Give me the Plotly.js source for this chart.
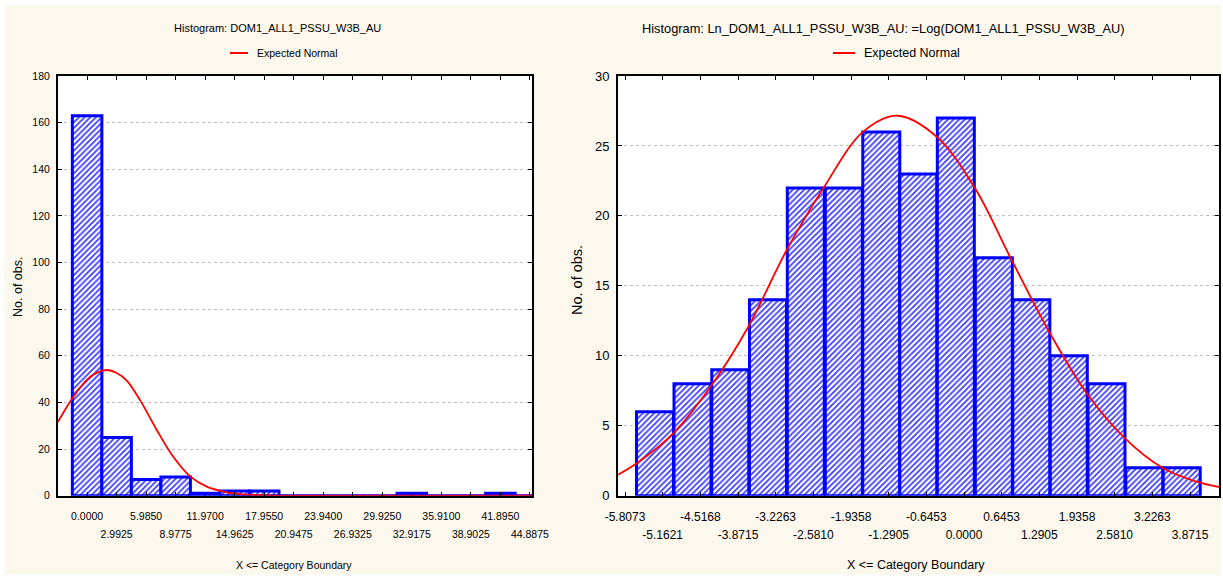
<!DOCTYPE html>
<html><head><meta charset="utf-8">
<script src="https://cdn.plot.ly/plotly-3.0.1.min.js"></script>
<style>
html,body{margin:0;padding:0;background:#ffffff;}
#frame{position:absolute;left:4px;top:5px;width:1217px;height:570px;background:#fcf8ee;}
#chart{width:1217px;height:570px;}
</style></head><body><div id="frame"><div id="chart"></div></div>
<script>
// ---- Left panel: raw variable ----
const rawTickLabels = ['0.0000','2.9925','5.9850','8.9775','11.9700','14.9625','17.9550','20.9475',
  '23.9400','26.9325','29.9250','32.9175','35.9100','38.9025','41.8950','44.8875'];
const rawCounts = [163, 25, 7, 8, 1, 2, 2, 0, 0, 0, 0, 1, 0, 0, 1, 0];
const rawCurveX = [-2.95, -1.39, 0, 1.0, 2.0, 3.0, 4.02, 5.37, 7.06, 8.74, 10.44, 12.13, 14.16, 15.5, 17.5, 20.0, 25.0, 45.1];
const rawCurveY = [31.7, 42.4, 49.8, 52.8, 53.9, 52.6, 49.4, 41.0, 28.2, 16.7, 8.3, 3.9, 1.45, 0.7, 0.2, 0.03, 0, 0];

// ---- Right panel: log-transformed variable ----
const lnTickLabels = ['-5.8073','-5.1621','-4.5168','-3.8715','-3.2263','-2.5810','-1.9358','-1.2905',
  '-0.6453','0.0000','0.6453','1.2905','1.9358','2.5810','3.2263','3.8715'];
const lnBinCenters = [-5.293, -4.651, -4.004, -3.358, -2.710, -2.059, -1.417, -0.783, -0.140, 0.511, 1.153, 1.795, 2.441, 3.089, 3.730];
const lnCounts = [6, 8, 9, 14, 22, 22, 26, 23, 27, 17, 14, 10, 8, 2, 2];
const lnCurveX = [-5.927, -5.607, -4.980, -4.322, -3.695, -3.037, -2.410, -1.725, -1.136, -0.468, 0.189, 0.788, 1.473, 2.102, 2.758, 3.414, 3.986, 4.368];
const lnCurveY = [1.50, 2.32, 4.46, 7.91, 12.08, 17.56, 21.97, 26.02, 27.16, 25.66, 21.97, 17.08, 11.61, 7.32, 4.10, 1.96, 1.00, 0.62];

const titles = ['Histogram: DOM1_ALL1_PSSU_W3B_AU', 'Histogram: Ln_DOM1_ALL1_PSSU_W3B_AU: =Log(DOM1_ALL1_PSSU_W3B_AU)'];
const legendLabel = 'Expected Normal';
const xTitle = 'X <= Category Boundary';
const yTitle = 'No. of obs.';

const W = 1217, H = 570;
const FONT = 'Liberation Sans, Arial, sans-serif';
const px = v => v / W;
const py = v => 1 - v / H;
const f = s => ({family: FONT, size: s, color: '#000'});

const evenOnly = labels => labels.map((s, i) => i % 2 === 0 ? s : '');
const oddVals = labels => labels.filter((s, i) => i % 2 === 1).map(Number);
const oddText = labels => labels.filter((s, i) => i % 2 === 1);

const barStyle = {
  color: '#ffffff',
  line: {color: '#0000ff', width: 3},
  pattern: {shape: '/', fgcolor: '#3c3cff', bgcolor: '#ffffff', size: 4, solidity: 0.45}
};

const traces = [
  {type: 'bar', x: rawTickLabels.map(Number), y: rawCounts, marker: barStyle, xaxis: 'x', yaxis: 'y'},
  {type: 'scatter', mode: 'lines', x: rawCurveX, y: rawCurveY, line: {color: '#ff0000', width: 1.8, shape: 'spline', smoothing: 1}, xaxis: 'x', yaxis: 'y', name: legendLabel},
  {type: 'bar', x: lnBinCenters, y: lnCounts, marker: barStyle, xaxis: 'x2', yaxis: 'y2'},
  {type: 'scatter', mode: 'lines', x: lnCurveX, y: lnCurveY, line: {color: '#ff0000', width: 1.8, shape: 'spline', smoothing: 1}, xaxis: 'x2', yaxis: 'y2', name: legendLabel},
  // empty traces binding the second-row label axes
  {type: 'scatter', mode: 'lines', x: [], y: [], xaxis: 'x3', yaxis: 'y', hoverinfo: 'skip'},
  {type: 'scatter', mode: 'lines', x: [], y: [], xaxis: 'x4', yaxis: 'y2', hoverinfo: 'skip'}
];

const axCommon = {
  showline: true, linecolor: '#000', linewidth: 2, mirror: 'ticks',
  ticks: 'inside', ticklen: 4, tickwidth: 1, tickcolor: '#000',
  zeroline: false, fixedrange: true
};
const xCommon = Object.assign({}, axCommon, {showgrid: false, tickmode: 'array', tickangle: 0});
const xRow2 = {showline: false, ticks: '', showgrid: false, zeroline: false, tickmode: 'array', tickangle: 0,
  fixedrange: true, side: 'bottom'};
const yCommon = Object.assign({}, axCommon, {showgrid: true, gridcolor: '#bdbdbd', griddash: 'dot', gridwidth: 1, ticklabelstandoff: 4});
const yDom = [py(490.7), py(71)];
const xDomL = [px(54), px(528)], xDomR = [px(614), px(1215)];
const rangeL = [-2.95, 45.1], rangeR = [-5.9272, 4.3683];

const layout = {
  width: W, height: H,
  margin: {l: 0, r: 0, t: 0, b: 0},
  paper_bgcolor: 'rgba(0,0,0,0)', plot_bgcolor: '#ffffff',
  font: f(11),
  showlegend: false, bargap: 0,
  xaxis: Object.assign({}, xCommon, {domain: xDomL, range: rangeL, anchor: 'y', tickfont: f(10.5), ticklabelstandoff: 10,
    tickvals: rawTickLabels.map(Number), ticktext: evenOnly(rawTickLabels)}),
  xaxis3: Object.assign({}, xRow2, {overlaying: 'x', anchor: 'y', range: rangeL, tickfont: f(10.5), ticklabelstandoff: 31,
    tickvals: oddVals(rawTickLabels), ticktext: oddText(rawTickLabels)}),
  yaxis: Object.assign({}, yCommon, {domain: yDom, range: [0, 180], dtick: 20, anchor: 'x', tickfont: f(10.5)}),
  xaxis2: Object.assign({}, xCommon, {domain: xDomR, range: rangeR, anchor: 'y2', tickfont: f(12), ticklabelstandoff: 9,
    tickvals: lnTickLabels.map(Number), ticktext: evenOnly(lnTickLabels)}),
  xaxis4: Object.assign({}, xRow2, {overlaying: 'x2', anchor: 'y2', range: rangeR, tickfont: f(12), ticklabelstandoff: 30,
    tickvals: oddVals(lnTickLabels), ticktext: oddText(lnTickLabels)}),
  yaxis2: Object.assign({}, yCommon, {domain: yDom, range: [0, 30], dtick: 5, anchor: 'x2', tickfont: f(13)}),
  annotations: [
    {text: titles[0], x: px(273), y: py(23), font: f(11)},
    {text: titles[1], x: px(880), y: py(23), font: f(12.8)},
    {text: legendLabel, x: px(251), y: py(48), xanchor: 'left', font: f(10.5)},
    {text: legendLabel, x: px(858), y: py(48), xanchor: 'left', font: f(12.5)},
    {text: xTitle, x: px(290), y: py(560), font: f(10.5)},
    {text: xTitle, x: px(912), y: py(560), font: f(12.5)},
    {text: yTitle, x: px(14), y: py(282), textangle: -90, font: f(12.5)},
    {text: yTitle, x: px(573), y: py(275), textangle: -90, font: f(14.5)}
  ].map(a => Object.assign({xref: 'paper', yref: 'paper', showarrow: false, xanchor: 'center', yanchor: 'middle'}, a)),
  shapes: [
    {type: 'line', xref: 'paper', yref: 'paper', x0: px(226), x1: px(244), y0: py(48), y1: py(48), line: {color: '#ff0000', width: 2}},
    {type: 'line', xref: 'paper', yref: 'paper', x0: px(829), x1: px(851), y0: py(48), y1: py(48), line: {color: '#ff0000', width: 2}}
  ]
};

Plotly.newPlot('chart', traces, layout, {displayModeBar: false, staticPlot: true});
</script></body></html>
